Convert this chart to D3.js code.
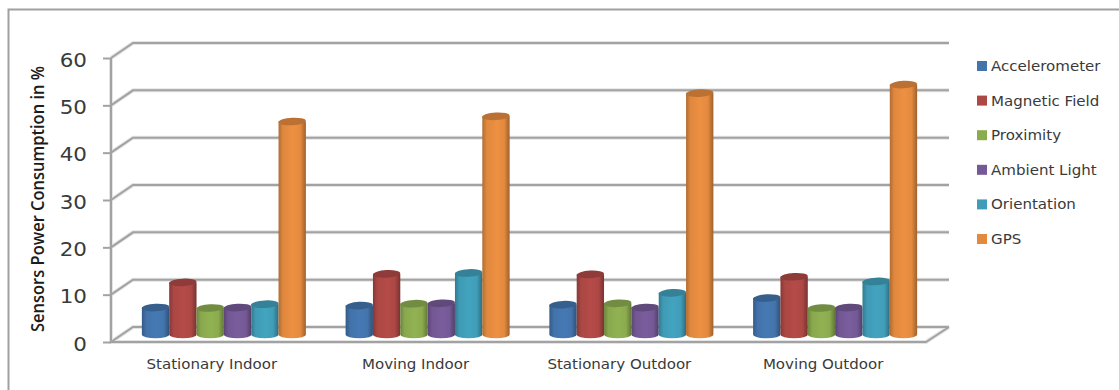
<!DOCTYPE html>
<html>
<head>
<meta charset="utf-8">
<script src="https://cdn.jsdelivr.net/npm/d3@7"></script>
<style>
html,body{margin:0;padding:0;background:#fff;}
svg{display:block;}
text{font-family:"DejaVu Sans",sans-serif;}
</style>
</head>
<body>
<svg id="chart" width="1119" height="390"></svg>
<script>
const categories = ["Stationary Indoor", "Moving Indoor", "Stationary Outdoor", "Moving Outdoor"];
const seriesNames = ["Accelerometer", "Magnetic Field", "Proximity", "Ambient Light", "Orientation", "GPS"];
const accelerometer = [5.7, 6.1, 6.3, 7.7];
const magneticField = [11, 12.8, 12.7, 12.2];
const proximity = [5.6, 6.5, 6.6, 5.6];
const ambientLight = [5.7, 6.6, 5.7, 5.7];
const orientation = [6.4, 13, 8.8, 11.2];
const gps = [45, 46.1, 51, 52.8];
const seriesValues = [accelerometer, magneticField, proximity, ambientLight, orientation, gps];
const seriesColors = ["#4374ac", "#ad4845", "#8bab4f", "#755996", "#409db8", "#e38a3f"];
const yTicks = [0, 10, 20, 30, 40, 50, 60];

const svg = d3.select("#chart");
const defs = svg.append("defs");

// Layout of the pseudo-3D box: a front plane and a back wall shifted up and right.
const frontLeft = 111, frontRight = 926, floorY = 342, topY = 58;
const depthX = 22, depthY = 15;
const y = d3.scaleLinear().domain([0, 60]).range([floorY, topY]);
const x = d3.scaleBand().domain(categories).range([frontLeft, frontRight]);
const inner = d3.scaleBand().domain(seriesNames).range([0, x.bandwidth() * 0.805]);
const gridColor = "#a2a2a2";
const textColor = "#3a3a3a";

// Stretches a text run a little wider than the font's natural advance.
function widen(selection, factor) {
  selection.each(function() {
    const t = d3.select(this);
    t.attr("textLength", this.getComputedTextLength() * factor)
     .attr("lengthAdjust", "spacingAndGlyphs");
  });
}

// Outer frame, open on the right and the bottom.
svg.append("path")
  .attr("d", "M8.5,390V9.5H1119")
  .attr("fill", "none").attr("stroke", "#a0a0a0").attr("stroke-width", 2);

// Gridlines on the back wall with their slanted returns, plus the floor outline.
const gridPaths = yTicks.map(t => d3.line()([
  [frontLeft, y(t)], [frontLeft + depthX, y(t) - depthY], [frontRight + depthX + 1, y(t) - depthY]
]));
gridPaths.push(d3.line()([
  [frontLeft, y(60)], [frontLeft, y(0)], [frontRight, y(0)], [frontRight + depthX + 1, y(0) - depthY]
]));
svg.append("g").attr("fill", "none").attr("stroke", "#e4e4e4").attr("stroke-width", 4)
  .selectAll("path").data(gridPaths).join("path").attr("d", d => d);
svg.append("g").attr("fill", "none").attr("stroke", gridColor).attr("stroke-width", 2)
  .selectAll("path").data(gridPaths).join("path").attr("d", d => d);

// Value axis: short ticks and large numerals.
const axis = svg.append("g")
  .attr("transform", `translate(${frontLeft},0)`)
  .call(d3.axisLeft(y).tickValues(yTicks).tickSize(8).tickPadding(16));
axis.select(".domain").remove();
axis.selectAll("line").attr("stroke", gridColor).attr("stroke-width", 2);
axis.selectAll("text")
  .attr("font-size", 19.5).attr("fill", textColor).attr("dy", "0.42em")
  .style("font-family", '"DejaVu Sans",sans-serif')
  .call(widen, 1.1);

// Axis title.
svg.append("text")
  .attr("transform", "translate(44,199) rotate(-90)")
  .attr("text-anchor", "middle")
  .attr("font-size", 18).attr("font-weight", 600).attr("fill", "#1c1c1c")
  .style("font-family", '"Open Sans",sans-serif')
  .attr("textLength", 266).attr("lengthAdjust", "spacingAndGlyphs")
  .text("Sensors Power Consumption in %");

// Horizontal shading for each cylinder body, darker at the two edges.
seriesColors.forEach((c, i) => {
  const g = defs.append("linearGradient").attr("id", "body" + i);
  const base = d3.color(c);
  [[0, base.darker(0.7)], [0.16, base.darker(0.05)], [0.52, base.brighter(0.12)], [0.8, base], [1, base.darker(1)]]
    .forEach(([o, col]) => g.append("stop").attr("offset", o).attr("stop-color", col));
});

// Cylinders, drawn at mid depth of the box.
const barBaseY = y(0) - depthY / 2;
const barShiftX = depthX / 2;
const capRy = 3.8;
const w = inner.bandwidth();
const barG = svg.append("g");
seriesNames.forEach((name, si) => {
  const color = d3.color(seriesColors[si]);
  barG.append("g").selectAll("g")
    .data(seriesValues[si].map((v, ci) => ({v, cat: categories[ci]})))
    .join("g")
    .each(function(d) {
      const left = x(d.cat) + x.bandwidth() * 0.0975 + inner(name) + barShiftX;
      const rx = w / 2;
      const topCy = barBaseY - (y(0) - y(d.v));
      const s = d3.select(this);
      s.append("path")
        .attr("d", `M${left},${topCy}V${barBaseY}A${rx},${capRy} 0 0 0 ${left + w},${barBaseY}V${topCy}Z`)
        .attr("fill", `url(#body${si})`);
      s.append("ellipse")
        .attr("cx", left + rx).attr("cy", topCy).attr("rx", rx).attr("ry", capRy)
        .attr("transform", `rotate(-3 ${left + rx} ${topCy})`)
        .attr("fill", color.darker(0.55));
    });
});

// Category labels under the floor.
svg.append("g").selectAll("text").data(categories).join("text")
  .attr("x", d => x(d) + x.bandwidth() / 2 - 1)
  .attr("y", 369)
  .attr("text-anchor", "middle")
  .attr("font-size", 14.6).attr("fill", textColor)
  .text(d => d)
  .call(widen, 1.03);

// Legend.
const legendY = d3.scalePoint().domain(seriesNames).range([66, 239]);
const legend = svg.append("g").selectAll("g").data(seriesNames).join("g")
  .attr("transform", d => `translate(977,${legendY(d)})`);
legend.append("rect")
  .attr("x", 0).attr("y", -5).attr("width", 10).attr("height", 10)
  .attr("fill", (d, i) => seriesColors[i]);
legend.append("text")
  .attr("x", 14).attr("y", 5)
  .attr("font-size", 14.6).attr("fill", textColor)
  .text(d => d)
  .call(widen, 1.03);
</script>
</body>
</html>
